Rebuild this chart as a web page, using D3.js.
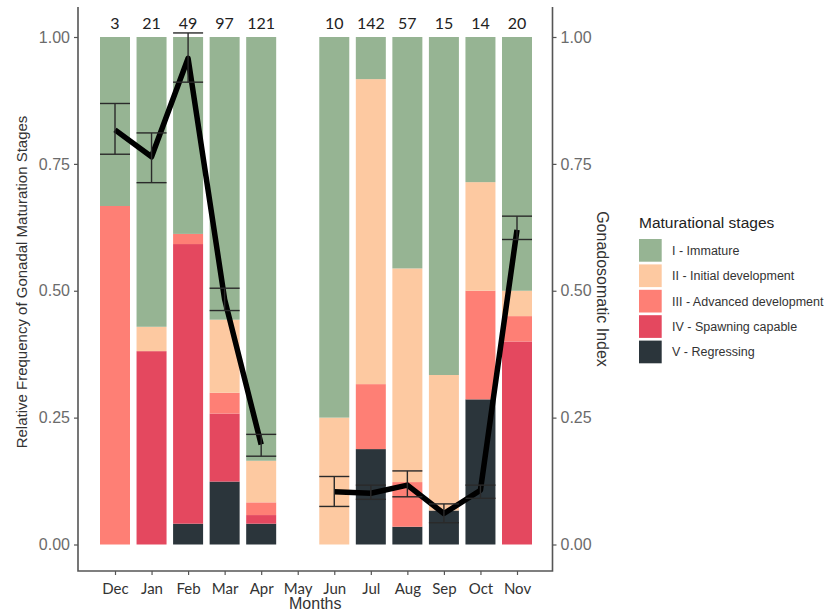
<!DOCTYPE html>
<html>
<head>
<meta charset="utf-8">
<script src="https://cdn.jsdelivr.net/npm/d3@7"></script>
<style>
  html, body { margin: 0; padding: 0; background: #fff; }
  svg { display: block; font-family: "Liberation Sans", Arial, sans-serif; }
</style>
</head>
<body>
<svg id="chart" width="826" height="616"></svg>
<script>
// months on the x axis (May has no samples)
const months = ['Dec', 'Jan', 'Feb', 'Mar', 'Apr', 'May', 'Jun', 'Jul', 'Aug', 'Sep', 'Oct', 'Nov'];
const sampleN = ['3', '21', '49', '97', '121', '', '10', '142', '57', '15', '14', '20'];

// relative frequency of each maturation stage per month
const stageKeys = ['I - Immature', 'II - Initial development', 'III - Advanced development', 'IV - Spawning capable', 'V - Regressing'];
const stageI   = [0.333, 0.571, 0.388, 0.557, 0.835, 0, 0.750, 0.083, 0.456, 0.666, 0.286, 0.50];
const stageII  = [0,     0.048, 0,     0.144, 0.082, 0, 0.250, 0.601, 0.421, 0.267, 0.214, 0.05];
const stageIII = [0.667, 0,     0.020, 0.041, 0.025, 0, 0,     0.128, 0.088, 0,     0.214, 0.05];
const stageIV  = [0,     0.381, 0.551, 0.134, 0.017, 0, 0,     0,     0,     0,     0,     0.40];
const stageV   = [0,     0,     0.041, 0.124, 0.041, 0, 0,     0.188, 0.035, 0.067, 0.286, 0];

// gonadosomatic index (mean, lower, upper)
const gsi     = [0.817, 0.764, 0.958, 0.483, 0.197, null, 0.104, 0.101, 0.117, 0.061, 0.107, 0.620];
const gsiLow  = [0.769, 0.713, 0.911, 0.461, 0.174, null, 0.075, 0.089, 0.094, 0.043, 0.091, 0.601];
const gsiHigh = [0.869, 0.811, 1.008, 0.505, 0.217, null, 0.134, 0.117, 0.145, 0.080, 0.117, 0.647];

const colors = {
  'I - Immature': '#96b493',
  'II - Initial development': '#fdc9a1',
  'III - Advanced development': '#fe7f75',
  'IV - Spawning capable': '#e4485f',
  'V - Regressing': '#2b353b'
};

const svg = d3.select('#chart');
const panel = { left: 78, right: 552.5, top: 7, bottom: 571 };

const x = d3.scalePoint().domain(months).range([115, 517]);
const y = d3.scaleLinear().domain([0, 1]).range([544.5, 37]);
const y2 = d3.scaleLinear().domain([0, 1]).range([544.5, 37]);
const barW = 30;

const rows = months.map((m, i) => ({
  month: m,
  'I - Immature': stageI[i],
  'II - Initial development': stageII[i],
  'III - Advanced development': stageIII[i],
  'IV - Spawning capable': stageIV[i],
  'V - Regressing': stageV[i]
}));
// V sits at the bottom, I on top
const stack = d3.stack().keys(stageKeys.slice().reverse())(rows);

svg.append('g').selectAll('g').data(stack).join('g')
  .attr('fill', d => colors[d.key])
  .selectAll('rect').data(d => d.filter(p => p[1] - p[0] > 0)).join('rect')
  .attr('x', d => x(d.data.month) - barW / 2)
  .attr('width', barW)
  .attr('y', d => y(d[1]))
  .attr('height', d => y(d[0]) - y(d[1]));

// sample sizes above bars
svg.append('g').selectAll('text').data(months).join('text')
  .attr('x', d => x(d)).attr('y', 29)
  .attr('text-anchor', 'middle')
  .attr('font-family', 'Lato, "Open Sans", sans-serif')
  .attr('font-size', 16).attr('fill', '#222')
  .text((d, i) => sampleN[i]);

// GSI line
const gsiPts = months.map((m, i) => ({ month: m, v: gsi[i], lo: gsiLow[i], hi: gsiHigh[i] }));
svg.append('path').datum(gsiPts)
  .attr('fill', 'none').attr('stroke', '#000').attr('stroke-width', 5.5)
  .attr('stroke-linejoin', 'round').attr('stroke-linecap', 'butt')
  .attr('d', d3.line().defined(d => d.v != null).x(d => x(d.month)).y(d => y2(d.v)));

// error bars
const eb = svg.append('g').attr('stroke', '#2a2a2a').attr('stroke-width', 1.4)
  .selectAll('g').data(gsiPts.filter(d => d.v != null)).join('g');
eb.append('line').attr('x1', d => x(d.month)).attr('x2', d => x(d.month))
  .attr('y1', d => y2(d.lo)).attr('y2', d => y2(d.hi));
eb.append('line').attr('x1', d => x(d.month) - 15).attr('x2', d => x(d.month) + 15)
  .attr('y1', d => y2(d.lo)).attr('y2', d => y2(d.lo));
eb.append('line').attr('x1', d => x(d.month) - 15).attr('x2', d => x(d.month) + 15)
  .attr('y1', d => y2(d.hi)).attr('y2', d => y2(d.hi));

// axes
const ticks = [0, 0.25, 0.5, 0.75, 1];
const axisColor = '#555';
const yAxis = svg.append('g').attr('transform', `translate(${panel.left},0)`)
  .call(d3.axisLeft(y).tickValues(ticks).tickFormat(d3.format('.2f')).tickSize(4).tickPadding(4));
const y2Axis = svg.append('g').attr('transform', `translate(${panel.right},0)`)
  .call(d3.axisRight(y2).tickValues(ticks).tickFormat(d3.format('.2f')).tickSize(4).tickPadding(4));
const xAxis = svg.append('g').attr('transform', `translate(0,${panel.bottom})`)
  .call(d3.axisBottom(x).tickSize(4).tickPadding(8));

[yAxis, y2Axis, xAxis].forEach(a => {
  a.select('.domain').remove();
  a.selectAll('.tick line').attr('stroke', axisColor).attr('stroke-width', 1.2);
});
[yAxis, y2Axis].forEach(a => a.selectAll('.tick text')
  .attr('font-size', 16).attr('fill', '#6b6b6b').attr('font-family', '"Liberation Sans", Arial, sans-serif'));
xAxis.selectAll('.tick text').attr('font-size', 15).attr('fill', '#333')
  .attr('font-family', 'Lato, "Open Sans", sans-serif');

// axis lines
svg.append('path')
  .attr('d', `M${panel.left},${panel.top}V${panel.bottom}H${panel.right}V${panel.top}`)
  .attr('fill', 'none').attr('stroke', axisColor).attr('stroke-width', 1.6);

// titles
svg.append('text').attr('transform', 'translate(27,282) rotate(-90)')
  .attr('text-anchor', 'middle').attr('font-size', 15).attr('fill', '#333')
  .text('Relative Frequency of Gonadal Maturation Stages');
svg.append('text').attr('transform', `translate(597,${(panel.top + panel.bottom) / 2}) rotate(90)`)
  .attr('text-anchor', 'middle').attr('font-size', 16).attr('fill', '#333')
  .text('Gonadosomatic Index');
svg.append('text').attr('x', (panel.left + panel.right) / 2).attr('y', 609)
  .attr('text-anchor', 'middle').attr('font-size', 16).attr('fill', '#333')
  .text('Months');

// legend
const lg = svg.append('g').attr('transform', 'translate(639,0)');
lg.append('text').attr('x', 0).attr('y', 228).attr('font-size', 15.5).attr('fill', '#222')
  .text('Maturational stages');
const item = lg.selectAll('g').data(stageKeys).join('g')
  .attr('transform', (d, i) => `translate(0,${239 + i * 25.4})`);
item.append('rect').attr('width', 22.7).attr('height', 22.7).attr('fill', d => colors[d]);
item.append('text').attr('x', 33).attr('y', 11.5).attr('dy', '0.35em')
  .attr('font-size', 12.5).attr('fill', '#333').text(d => d);
</script>
</body>
</html>
